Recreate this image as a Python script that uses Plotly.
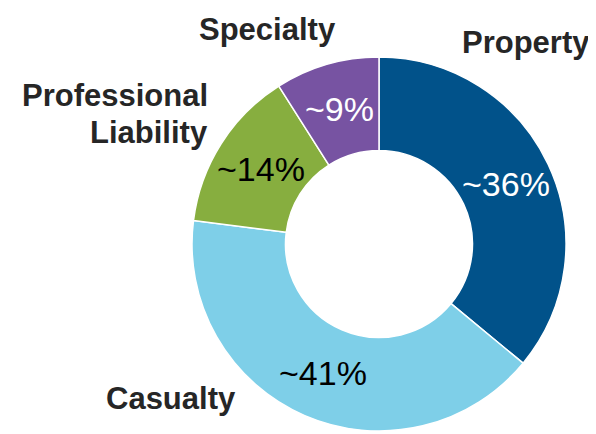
import math
import plotly.graph_objects as go

categories = ["Property", "Casualty", "Professional Liability", "Specialty"]
shares = [36, 41, 14, 9]
pct_labels = ["~36%", "~41%", "~14%", "~9%"]
colors = ["#01528A", "#7ECFE8", "#87AE3F", "#7753A2"]
pct_text_colors = ["#FFFFFF", "#000000", "#000000", "#FFFFFF"]

W, H = 596, 434
OFF = 8  # page body margin offset
cx, cy, r = 379 - OFF, 244 - OFF, 187
hole = 0.5

fig = go.Figure(go.Pie(
    labels=categories,
    values=shares,
    text=pct_labels,
    textinfo="none",
    hole=hole,
    sort=False,
    direction="clockwise",
    rotation=0,
    marker=dict(colors=colors, line=dict(color="#FFFFFF", width=1.5)),
    domain=dict(x=[(cx - r) / W, (cx + r) / W], y=[(H - cy - r) / H, (H - cy + r) / H]),
    showlegend=False,
    hoverinfo="label+text",
))

# percentage labels at the middle of each slice (angle from cumulative shares)
total = sum(shares)
rm = r * (1 + hole) / 2
cum = 0
for s, t, c in zip(shares, pct_labels, pct_text_colors):
    ang = math.radians(360 * (cum + s / 2) / total)
    cum += s
    px = cx + rm * math.sin(ang)
    py = cy - rm * math.cos(ang)
    fig.add_annotation(
        xref="paper", yref="paper", x=px / W, y=1 - py / H,
        text=t, showarrow=False, xanchor="center", yanchor="middle",
        font=dict(family="Liberation Sans, Arial, sans-serif", size=34, color=c),
    )

label_font = dict(family="Liberation Sans, Arial, sans-serif", size=31, color="#262626")
ann = [
    dict(text="<b>Property</b>", x=(526 - OFF) / W, y=1 - (42 - OFF) / H, xanchor="center"),
    dict(text="<b>Specialty</b>", x=(267 - OFF) / W, y=1 - (29.5 - OFF) / H, xanchor="center"),
    dict(text="<b>Professional</b>", x=(210 - OFF) / W, y=1 - (95.5 - OFF) / H, xanchor="right"),
    dict(text="<b>Liability</b>", x=(210 - OFF) / W, y=1 - (132.5 - OFF) / H, xanchor="right"),
    dict(text="<b>Casualty</b>", x=(171 - OFF) / W, y=1 - (398.5 - OFF) / H, xanchor="center"),
]
for a in ann:
    fig.add_annotation(xref="paper", yref="paper", showarrow=False, yanchor="middle",
                       font=label_font, **a)

fig.update_layout(
    width=W, height=H,
    margin=dict(l=0, r=0, t=0, b=0),
    paper_bgcolor="#FFFFFF",
    plot_bgcolor="#FFFFFF",
)

fig.write_html("out.html")
